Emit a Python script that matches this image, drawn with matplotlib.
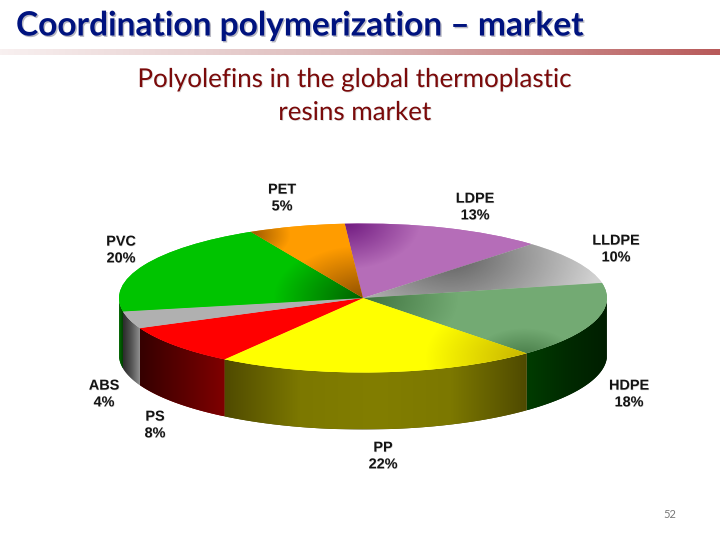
import numpy as np
import matplotlib
matplotlib.use("Agg")
import matplotlib.pyplot as plt
from matplotlib.patches import Wedge, Polygon
from matplotlib.colors import LinearSegmentedColormap as LSC
import matplotlib.patheffects as pe

# ---- data ----
names = ["LDPE", "LLDPE", "HDPE", "PP", "PS", "ABS", "PVC", "PET"]
shares = [13, 10, 18, 22, 8, 4, 20, 5]
title = "Coordination polymerization – market"
subtitle = "Polyolefins in the global thermoplastic\nresins market"
page = "52"

# ---- styles ----
W, H = 720, 540
CX, CY, RX, RY, DEPTH = 363.0, 298.0, 244.0, 74.5, 57.0
START = 98.0
top_style = {
    "LDPE":  ("#701a80", "#b56db8", [(345, 222, 75)]),
    "LLDPE": ("#5f5f5f", "#d2d2d2", [(450, 255, 150)]),
    "HDPE":  ("#3f733f", "#73aa73", [(363, 298, 95), (524, 362, 55)]),
    "PP":    ("#c8b400", "#ffff00", [(525, 358, 100)]),
    "PS":    ("#ff0000", "#ff0000", [(363, 298, 10)]),
    "ABS":   ("#b0b0b0", "#b0b0b0", [(363, 298, 10)]),
    "PVC":   ("#006000", "#00c400", [(363, 298, 90)]),
    "PET":   ("#8f4f00", "#ff9c00", [(363, 298, 85), (245, 234, 45)]),
}
side_style = {
    "HDPE": ["#003c00", "#002a00", "#001e00"],
    "PP":   ["#4f4a00", "#7c7800", "#827e00", "#7c7800", "#4f4a00"],
    "PS":   ["#350000", "#5a0000", "#800000"],
    "ABS":  ["#2a2a2a", "#555555", "#909090"],
    "PVC":  ["#007000", "#004000"],
}
label_pos = {
    "PET": (282, 198), "LDPE": (475, 207), "LLDPE": (616, 249), "HDPE": (629, 394),
    "PP": (383, 456), "PS": (155, 425), "ABS": (104, 394), "PVC": (121, 250),
}


def warp(t):
    """Perspective-like distortion of pie angles (degrees)."""
    t = np.asarray(t, dtype=float)
    w = (t + 180.0) % 360.0 - 180.0
    return (t - 5.0 * np.cos(np.radians(t - 60.0))
            + 6.0 * np.exp(-((w - 125.0) / 15.0) ** 2)
            - 3.0 * np.exp(-((w + 150.0) / 18.0) ** 2))


fig = plt.figure(figsize=(W / 100, H / 100), dpi=100, facecolor="white")
ax = fig.add_axes([0, 0, 1, 1])
ax.axis("off")
xlim = (-CX / RX, (W - CX) / RX)
ylim = ((CY - H) / RY, CY / RY)
d = DEPTH / RY

# slice angles come from the values
cum = np.concatenate([[0], np.cumsum(shares)]) / np.sum(shares) * 360.0
raw = START - cum

# sides
for i, n in enumerate(names):
    if n not in side_style:
        continue
    hi, lo = min(raw[i], 0.0), max(raw[i + 1], -180.0)
    if hi <= lo:
        continue
    ts = np.radians(warp(np.linspace(lo, hi, 80)))
    xs, ys = np.cos(ts), np.sin(ts)
    poly = Polygon(np.column_stack([np.r_[xs, xs[::-1]], np.r_[ys, ys[::-1] - d]]),
                   closed=True, facecolor=side_style[n][-1],
                   edgecolor="none", zorder=1)
    ax.add_patch(poly)
    cmap = LSC.from_list(n + "s", side_style[n])
    im = ax.imshow(np.linspace(0, 1, 256)[None, :], cmap=cmap, aspect="auto",
                   extent=(xs.min(), xs.max(), ys.min() - d, ys.max()),
                   interpolation="bilinear", zorder=2)
    im.set_clip_path(poly)

# top surface
gx, gy = np.meshgrid(np.arange(115, 615), np.arange(220, 378))
ext = ((115 - CX) / RX, (615 - CX) / RX, (CY - 378) / RY, (CY - 220) / RY)
for i, n in enumerate(names):
    dark, light, foci = top_style[n]
    wedge = Wedge((0, 0), 1.0, float(warp(raw[i + 1])), float(warp(raw[i])),
                  facecolor=light, edgecolor="none", zorder=3)
    ax.add_patch(wedge)
    t = np.min([np.hypot(gx - fx, (gy - fy) * 1.6) / s for fx, fy, s in foci], axis=0)
    im = ax.imshow(np.clip(t, 0, 1), cmap=LSC.from_list(n, [dark, light]), vmin=0, vmax=1,
                   aspect="auto", extent=ext, origin="upper",
                   interpolation="bilinear", zorder=4)
    im.set_clip_path(wedge)

ax.set_xlim(*xlim)
ax.set_ylim(*ylim)


def T(x, y, s, **kw):
    return fig.text(x / W, 1 - y / H, s, ha="center", va="center", **kw)


# pie labels
for n, v in zip(names, shares):
    x, y = label_pos[n]
    T(x, y, f"{n}\n{v}%", family="Liberation Sans", weight="bold", fontsize=10.4,
      color="#141414", linespacing=1.25,
      path_effects=[pe.withSimplePatchShadow(offset=(0.4, -0.4), shadow_rgbFace="#aaaaaa", alpha=0.5)])

# header rule with gradient
bar = fig.add_axes([0, 1 - 55.5 / H, 1, 6.5 / H])
bar.axis("off")
bar.imshow(np.linspace(0, 1, 512)[None, :], aspect="auto", interpolation="bilinear",
           cmap=LSC.from_list("rule", ["#f8f0f0", "#dcb8b8", "#b85a5a"]))

# texts
fig.text(16 / W, 1 - 26 / H, title, ha="left", va="center", family="Lato", weight="bold",
         fontsize=24.1, color="#00137f",
         path_effects=[pe.withSimplePatchShadow(offset=(1.0, -1.0), shadow_rgbFace="#9a9aa8", alpha=0.7)])
T(355, 96, subtitle, family="Lato", fontsize=18.7, color="#7a0a0a", linespacing=1.4,
  path_effects=[pe.withSimplePatchShadow(offset=(0.6, -0.6), shadow_rgbFace="#bbbbbb", alpha=0.5)])
T(670, 514, page, family="Lato", fontsize=8, color="#777777")

fig.savefig("out.png", dpi=100, facecolor="white")
